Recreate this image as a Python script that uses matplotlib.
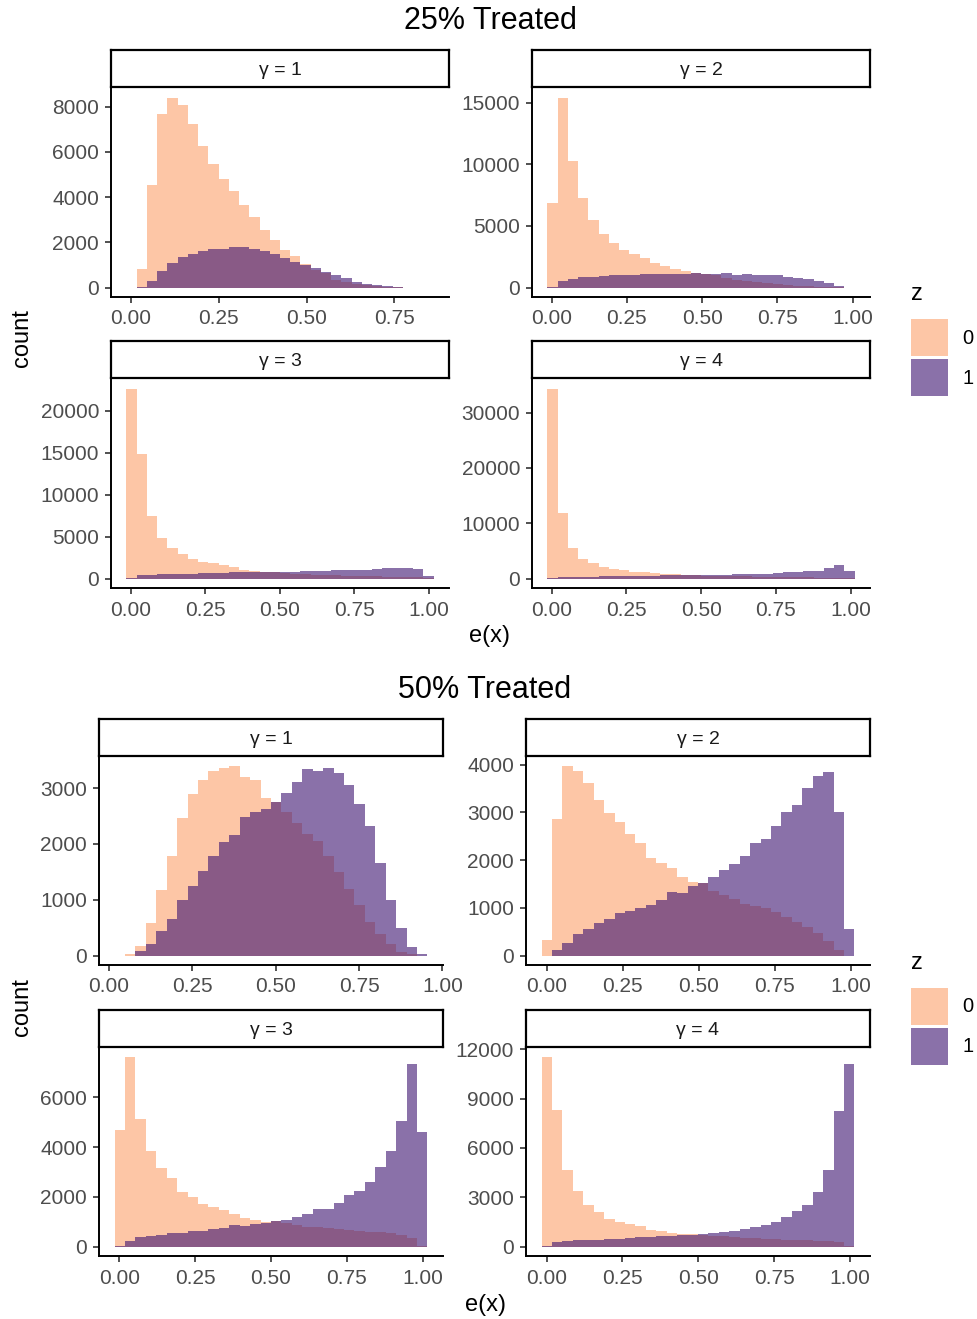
import numpy as np
import matplotlib
matplotlib.use("Agg")
import matplotlib.pyplot as plt
from matplotlib.patches import Rectangle

plt.rcParams['font.family'] = ['Liberation Sans', 'DejaVu Sans']

# counts per bin (30 bins) for z = 0 and z = 1, plus bin range of each panel
t25_g1_range = (-0.013, 0.862)
t25_g1_z0 = [0, 840, 4550, 7690, 8410, 8085, 7215, 6275, 5480, 4815, 4255, 3640, 3105, 2560, 2090,
             1650, 1385, 1030, 780, 620, 325, 235, 160, 100, 60, 30, 15, 0, 0, 0]
t25_g1_z1 = [0, 30, 295, 735, 1105, 1355, 1490, 1605, 1725, 1725, 1780, 1780, 1725, 1605, 1500,
             1325, 1135, 1015, 885, 665, 545, 400, 265, 175, 120, 60, 30, 0, 0, 0]

t25_g2_range = (-0.0143, 1.0066)
t25_g2_z0 = [6840, 15430, 10270, 7270, 5460, 4380, 3650, 3080, 2680, 2380, 2030, 1780, 1540, 1350, 1215,
             1110, 1000, 755, 620, 515, 430, 350, 270, 190, 160, 110, 80, 55, 25, 0]
t25_g2_z1 = [30, 490, 700, 840, 890, 950, 1000, 1050, 1050, 1110, 1135, 1135, 1135, 1135, 1190,
             1110, 1110, 1160, 1050, 1135, 1030, 1030, 1030, 890, 810, 650, 490, 325, 135, 0]

t25_g3_range = (-0.0144, 1.0155)
t25_g3_z0 = [22620, 14880, 7420, 4880, 3690, 2900, 2380, 1980, 1825, 1550, 1350, 1070, 910, 830, 750,
             675, 595, 515, 475, 435, 400, 355, 320, 280, 240, 200, 200, 160, 120, 40]
t25_g3_z1 = [40, 400, 475, 515, 555, 595, 595, 635, 675, 675, 715, 750, 750, 750, 795,
             795, 830, 875, 875, 910, 990, 1030, 1030, 1070, 1110, 1230, 1270, 1270, 1150, 280]

t25_g4_range = (-0.0144, 1.013)
t25_g4_z0 = [34340, 11750, 5600, 3610, 2830, 2110, 1690, 1570, 1265, 1085, 965, 845, 785, 665, 600,
             540, 540, 480, 420, 420, 360, 360, 300, 300, 240, 240, 180, 120, 120, 60]
t25_g4_z1 = [60, 300, 300, 360, 360, 420, 420, 480, 480, 540, 540, 600, 600, 600, 600,
             665, 665, 665, 725, 785, 785, 845, 965, 1085, 1205, 1325, 1445, 1930, 2470, 1445]

t50_g1_range = (0.017, 0.955)
t50_g1_z0 = [0, 25, 180, 590, 1170, 1780, 2470, 2890, 3150, 3300, 3360, 3390, 3200, 3150, 2820,
             2760, 2580, 2370, 2180, 2050, 1780, 1495, 1185, 910, 600, 380, 200, 70, 20, 0]
t50_g1_z1 = [0, 0, 90, 200, 445, 650, 990, 1240, 1520, 1785, 2030, 2155, 2480, 2580, 2620,
             2760, 2920, 3110, 3345, 3310, 3360, 3270, 3050, 2710, 2330, 1660, 1000, 495, 145, 20]

t50_g2_range = (-0.0163, 1.011)
t50_g2_z0 = [335, 2865, 3965, 3880, 3625, 3255, 2985, 2805, 2555, 2360, 2040, 1950, 1830, 1650, 1540,
             1525, 1355, 1275, 1195, 1090, 1045, 995, 905, 805, 710, 605, 480, 300, 125, 0]
t50_g2_z1 = [0, 110, 270, 460, 565, 680, 770, 890, 930, 1000, 1070, 1170, 1330, 1315, 1455,
             1525, 1640, 1790, 1925, 2095, 2365, 2450, 2715, 3000, 3160, 3515, 3765, 3840, 3005, 555]

t50_g3_range = (-0.0153, 1.0153)
t50_g3_z0 = [4690, 7610, 5120, 3850, 3170, 2770, 2180, 2005, 1700, 1590, 1470, 1310, 1150, 1085, 1005,
             1030, 950, 855, 800, 775, 735, 710, 670, 640, 600, 590, 535, 470, 350, 10]
t50_g3_z1 = [10, 225, 390, 430, 480, 535, 550, 630, 640, 710, 750, 855, 815, 920, 965,
             1045, 1070, 1175, 1310, 1500, 1525, 1765, 2085, 2245, 2605, 3195, 3865, 5055, 7365, 4610]

t50_g4_range = (-0.0164, 1.0142)
t50_g4_z0 = [11500, 8280, 4670, 3375, 2525, 2100, 1655, 1495, 1395, 1250, 1010, 930, 850, 790, 750,
             730, 665, 625, 565, 545, 525, 485, 445, 425, 425, 405, 365, 345, 305, 20]
t50_g4_z1 = [20, 265, 345, 385, 405, 425, 445, 465, 505, 585, 565, 645, 645, 685, 730,
             770, 830, 890, 930, 1050, 1190, 1335, 1495, 1780, 2160, 2545, 3290, 4685, 8240, 11130]

x_ticks_short = [0.0, 0.25, 0.5, 0.75]
x_ticks_full = [0.0, 0.25, 0.5, 0.75, 1.0]

fill_z0 = '#FDA06B'
fill_z1 = '#3C1271'
ALPHA = 0.6

W, H = 977, 1319
fig = plt.figure(figsize=(W / 100, H / 100), dpi=100)


def px_box(x0, y0, x1, y1):
    return [x0 / W, 1 - y1 / H, (x1 - x0) / W, (y1 - y0) / H]


def panel(box, strip_h, label, rng, z0, z1, xticks, yticks):
    x0, y0, x1, y1 = box
    ax = fig.add_axes(px_box(x0, y0, x1, y1))
    edges = np.linspace(rng[0], rng[1], 31)
    widths = np.diff(edges)
    ax.bar(edges[:-1], z0, width=widths, align='edge', color=fill_z0, alpha=ALPHA, linewidth=0)
    ax.bar(edges[:-1], z1, width=widths, align='edge', color=fill_z1, alpha=ALPHA, linewidth=0)

    span = rng[1] - rng[0]
    ax.set_xlim(rng[0] - 0.05 * span, rng[1] + 0.05 * span)
    ymax = max(max(z0), max(z1))
    ax.set_ylim(-0.05 * ymax, 1.05 * ymax)

    ax.set_xticks(xticks)
    ax.set_xticklabels([f'{t:.2f}' for t in xticks])
    ax.set_yticks(yticks)
    ax.set_yticklabels([str(t) for t in yticks])
    ax.tick_params(direction='out', length=4, width=1.2, color='#333333',
                   labelsize=15, labelcolor='#4D4D4D')
    ax.tick_params(axis='x', pad=5)
    ax.tick_params(axis='y', pad=4.5)
    for s in ['top', 'right']:
        ax.spines[s].set_visible(False)
    for s in ['left', 'bottom']:
        ax.spines[s].set_linewidth(1.4)
        ax.spines[s].set_color('black')

    # facet strip above the panel
    sx = fig.add_axes(px_box(x0, y0 - strip_h - 1, x1, y0 - 1))
    sx.set_xticks([])
    sx.set_yticks([])
    for s in sx.spines.values():
        s.set_linewidth(1.6)
        s.set_color('black')
    sx.text(0.5, 0.45, label, ha='center', va='center', fontsize=14, color='#1A1A1A',
            transform=sx.transAxes)
    return ax


def legend(y_title):
    fig.text(911 / W, 1 - y_title / H, 'z', fontsize=17, ha='left', va='center')
    for i, (c, lab) in enumerate([(fill_z0, '0'), (fill_z1, '1')]):
        top = y_title + 25 + i * 40
        fig.add_artist(Rectangle((911 / W, 1 - (top + 37) / H), 37 / W, 37 / H,
                                 transform=fig.transFigure, facecolor=c, alpha=ALPHA,
                                 edgecolor='none'))
        fig.text(962 / W, 1 - (top + 19) / H, lab, fontsize=14.5, ha='left', va='center')


# 25% treated
fig.text(490 / W, 1 - 21 / H, '25% Treated', fontsize=22, ha='center', va='center')
panel((111, 88, 449, 297), 37, 'γ = 1', t25_g1_range, t25_g1_z0, t25_g1_z1,
      x_ticks_short, [0, 2000, 4000, 6000, 8000])
panel((532, 88, 870, 297), 37, 'γ = 2', t25_g2_range, t25_g2_z0, t25_g2_z1,
      x_ticks_full, [0, 5000, 10000, 15000])
panel((111, 379, 449, 588), 37, 'γ = 3', t25_g3_range, t25_g3_z0, t25_g3_z1,
      x_ticks_full, [0, 5000, 10000, 15000, 20000])
panel((532, 379, 870, 588), 37, 'γ = 4', t25_g4_range, t25_g4_z0, t25_g4_z1,
      x_ticks_full, [0, 10000, 20000, 30000])
fig.text(490 / W, 1 - 636 / H, 'e(x)', fontsize=17, ha='center', va='center')
fig.text(22 / W, 1 - 338 / H, 'count', fontsize=17, ha='center', va='center', rotation=90)
legend(294)

# 50% treated
fig.text(485 / W, 1 - 690 / H, '50% Treated', fontsize=22, ha='center', va='center')
panel((99, 757, 443, 965), 37, 'γ = 1', t50_g1_range, t50_g1_z0, t50_g1_z1,
      x_ticks_full, [0, 1000, 2000, 3000])
panel((526, 757, 870, 965), 37, 'γ = 2', t50_g2_range, t50_g2_z0, t50_g2_z1,
      x_ticks_full, [0, 1000, 2000, 3000, 4000])
panel((99, 1048, 443, 1256), 37, 'γ = 3', t50_g3_range, t50_g3_z0, t50_g3_z1,
      x_ticks_full, [0, 2000, 4000, 6000])
panel((526, 1048, 870, 1256), 37, 'γ = 4', t50_g4_range, t50_g4_z0, t50_g4_z1,
      x_ticks_full, [0, 3000, 6000, 9000, 12000])
fig.text(485 / W, 1 - 1305 / H, 'e(x)', fontsize=17, ha='center', va='center')
fig.text(22 / W, 1 - 1007 / H, 'count', fontsize=17, ha='center', va='center', rotation=90)
legend(963)

fig.savefig('out.png', dpi=100)
